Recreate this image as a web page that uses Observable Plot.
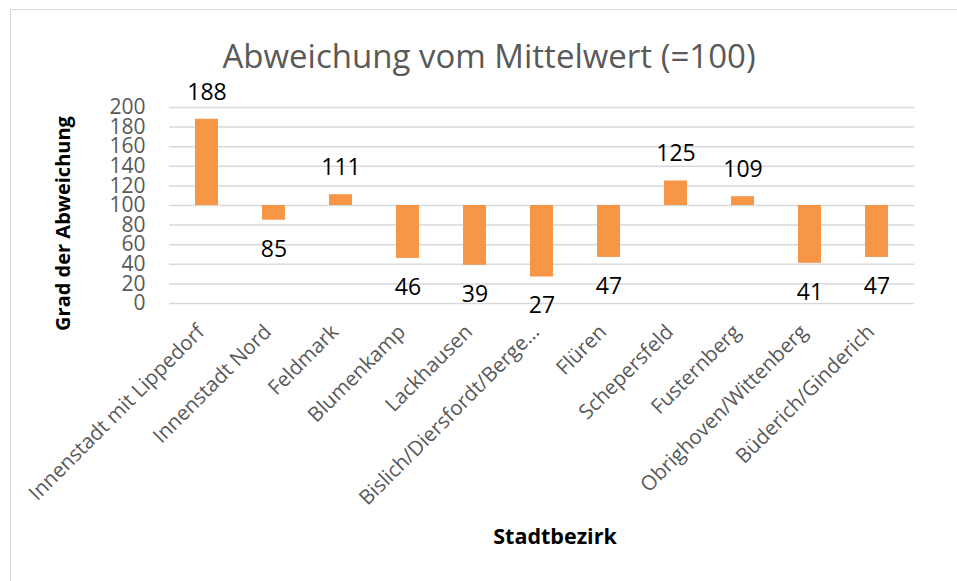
<!DOCTYPE html>
<html>
<head>
<meta charset="utf-8">
<script src="https://cdn.jsdelivr.net/npm/d3@7"></script>
<script src="https://cdn.jsdelivr.net/npm/@observablehq/plot@0.6"></script>
<style>
  html, body { margin: 0; padding: 0; background: #fff; }
  #chart { position: relative; width: 957px; height: 581px; overflow: hidden; }
  #frame { position: absolute; left: 10px; top: 9px; width: 960px; height: 600px; border: 1.5px solid #d9d9d9; box-sizing: border-box; }
  #chart svg { position: absolute; left: 0; top: 0; }
</style>
</head>
<body>
<div id="chart"><div id="frame"></div></div>
<script>
const districts = [
  "Innenstadt mit Lippedorf", "Innenstadt Nord", "Feldmark", "Blumenkamp",
  "Lackhausen", "Bislich/Diersfordt/Berge…", "Flüren", "Schepersfeld",
  "Fusternberg", "Obrighoven/Wittenberg", "Büderich/Ginderich"
];
const values = [188, 85, 111, 46, 39, 27, 47, 125, 109, 41, 47];
const yTicks = [0, 20, 40, 60, 80, 100, 120, 140, 160, 180, 200];
const baseline = 100;
const title = "Abweichung vom Mittelwert (=100)";
const yLabel = "Grad der Abweichung";
const xLabel = "Stadtbezirk";

const data = districts.map((name, i) => ({name, value: values[i]}));
const font = "'Open Sans', 'Liberation Sans', sans-serif";

const chart = Plot.plot({
  width: 957,
  height: 581,
  marginTop: 107,
  marginBottom: 278,
  marginLeft: 169,
  marginRight: 43,
  style: {fontFamily: font, background: "transparent", overflow: "visible"},
  x: {domain: districts, paddingInner: 0.66, paddingOuter: 0.33, label: null},
  y: {domain: [0, 200], ticks: yTicks, label: null},
  marks: [
    Plot.gridY(yTicks, {stroke: "#d9d9d9", strokeOpacity: 1, strokeWidth: 1.5}),
    Plot.axisY(yTicks, {tickSize: 0, tickPadding: 24, fontSize: 21, fill: "#595959", label: null}),
    Plot.axisX({tickSize: 0, tickPadding: 20, tickRotate: -45, dx: -6, dy: 5, fontSize: 20.5, fill: "#595959", label: null}),
    Plot.barY(data, {x: "name", y1: baseline, y2: "value", fill: "#F79646"}),
    Plot.text(data.filter(d => d.value >= baseline), {x: "name", y: "value", text: d => String(d.value), dy: -27, fontSize: 23, fill: "#000"}),
    Plot.text(data.filter(d => d.value < baseline), {x: "name", y: "value", text: d => String(d.value), dy: 29, fontSize: 23, fill: "#000"}),
    Plot.text([title], {frameAnchor: "top", lineAnchor: "middle", dy: -50, dx: -53, fontSize: 33, fill: "#595959"}),
    Plot.text([yLabel], {frameAnchor: "left", textAnchor: "middle", lineAnchor: "middle", dx: -106, dy: 18, rotate: -90, fontSize: 20, fontWeight: "bold", fill: "#000"}),
    Plot.text([xLabel], {frameAnchor: "bottom", lineAnchor: "middle", dy: 234, dx: 13, fontSize: 21.5, fontWeight: "bold", fill: "#000"})
  ]
});
document.getElementById("chart").appendChild(chart);
</script>
</body>
</html>
